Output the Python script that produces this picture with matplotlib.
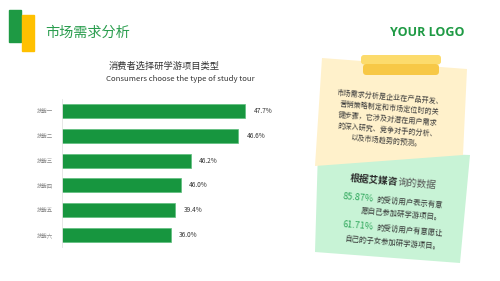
import numpy as np
import matplotlib
matplotlib.use("Agg")
import matplotlib.pyplot as plt
from matplotlib.patches import Polygon, Rectangle, FancyBboxPatch

plt.rcParams['font.family'] = ['Noto Sans CJK SC', 'DejaVu Sans']

# ---------------- data ----------------
categories = ["技能一", "技能二", "技能三", "技能四", "技能五", "技能六"]
value_labels = ["47.7%", "46.6%", "46.2%", "46.0%", "39.4%", "36.0%"]
# drawn bar lengths as they appear in the picture (same scale as first bar)
bar_lengths = [47.7, 45.9, 33.6, 31.0, 29.5, 28.4]

page_title = "市场需求分析"
logo_text = "YOUR LOGO"
chart_title = "消费者选择研学游项目类型"
chart_subtitle = "Consumers choose the type of study tour"
note_lines = ["市场需求分析是企业在产品开发、",
              "营销策略制定和市场定位时的关",
              "键步骤，它涉及对潜在用户需求",
              "的深入研究、竞争对手的分析、",
              "以及市场趋势的预测。"]
stat_head_bold = "根据艾媒咨"
stat_head_rest = "询的数据"
stat_values = ["85.87%", "61.71%"]
stat_texts = [["的受访用户表示有意", "愿自己参加研学游项目。"],
              ["的受访用户有意愿让", "自己的子女参加研学游项目。"]]

W, H = 500, 281
GREEN = "#17963F"
fig = plt.figure(figsize=(W / 100, H / 100), dpi=100)
fig.patch.set_facecolor("white")
renderer = fig.canvas.get_renderer()

# background / decoration axes in pixel coordinates
bg = fig.add_axes([0, 0, 1, 1], zorder=0)
bg.set_xlim(0, W)
bg.set_ylim(H, 0)
bg.axis("off")

def text_width(s, **kw):
    t = fig.text(0, 0, s, **kw)
    w = t.get_window_extent(renderer).width
    t.remove()
    return w

# header blocks
bg.add_patch(Rectangle((9, 10), 12, 32, color="#1E9A44", zorder=2))
bg.add_patch(Rectangle((22, 15), 12, 36, color="#FFC000", zorder=2))
bg.text(45, 33, page_title, fontsize=10.2, color="#2A9D4E", ha="left", va="center")
bg.text(465, 32, logo_text, fontsize=9, color="#1E9A44", fontweight="bold",
        family=["Open Sans", "DejaVu Sans"], ha="right", va="center")

# chart titles
bg.text(164, 66, chart_title, fontsize=6.7, color="#333333", ha="center", va="center")
bg.text(180, 79, chart_subtitle, fontsize=5.6, color="#333333", ha="center", va="center")

# notes
green_note = Polygon([(318, 150), (470, 155), (460, 263), (315, 252)], closed=True,
                     facecolor="#C8F3D6", edgecolor="none", zorder=1)
yellow_note = Polygon([(322, 58), (467, 69), (463, 155), (315, 166)], closed=True,
                      facecolor="#FFF1CB", edgecolor="none", zorder=2)
bg.add_patch(green_note)
bg.add_patch(yellow_note)
# tape
bg.add_patch(FancyBboxPatch((361, 55), 80, 9.5, boxstyle="round,pad=0,rounding_size=3",
                            facecolor="#FCDB6C", edgecolor="none", zorder=3))
bg.add_patch(FancyBboxPatch((363, 64), 76, 11, boxstyle="round,pad=0,rounding_size=3.5",
                            facecolor="#F7C846", edgecolor="none", zorder=3))

ang = 4.8
ca, sa = np.cos(np.radians(ang)), np.sin(np.radians(ang))

# yellow note text
for k, line in enumerate(note_lines):
    cx = 390 - k * 10.8 * sa
    cy = 97.5 + k * 10.8 * ca
    bg.text(cx, cy, line, fontsize=5.1, color="#3A3A3A", ha="center", va="center",
            rotation=-ang, rotation_mode="anchor", zorder=4)

# green note text
def along(x0, y0, s):
    return x0 + s * ca, y0 + s * sa

head_kw = dict(fontsize=6.9, fontweight="bold")
bg.text(350, 178, stat_head_bold, color="#2B2B2B", ha="left", va="center",
        rotation=-ang, rotation_mode="anchor", zorder=4, **head_kw)
x2, y2 = along(350, 178, text_width(stat_head_bold, **head_kw))
bg.text(x2, y2, stat_head_rest, fontsize=6.9, color="#555555",
        ha="left", va="center", rotation=-ang, rotation_mode="anchor", zorder=4)

stat_rows = [(343, 197, 361, 210.7), (343, 225, 345, 238.5)]
for (vx, vy, lx, ly), val, txt in zip(stat_rows, stat_values, stat_texts):
    bg.text(vx, vy, val, fontsize=6.5, color="#2EA65A", ha="left", va="center",
            rotation=-ang, rotation_mode="anchor", zorder=4)
    tx, ty = along(vx, vy, 34)
    bg.text(tx, ty, txt[0], fontsize=5.3, color="#333333", ha="left", va="center",
            rotation=-ang, rotation_mode="anchor", zorder=4)
    bg.text(lx, ly, txt[1], fontsize=5.3, color="#333333", ha="left", va="center",
            rotation=-ang, rotation_mode="anchor", zorder=4)

# ---------------- bar chart ----------------
ax_left, ax_top, ax_bottom = 62, 99, 247
xmax = 50
ax_w = 183 * xmax / 47.7
ax = fig.add_axes([ax_left / W, 1 - ax_bottom / H, ax_w / W, (ax_bottom - ax_top) / H], zorder=1)
ax.patch.set_alpha(0)
y = np.arange(len(categories))
bars = ax.barh(y, bar_lengths, height=0.57, color=GREEN, edgecolor="#5DBE7C", linewidth=0.5)
ax.set_ylim(len(categories) - 0.5, -0.5)
ax.set_xlim(0, xmax)
ax.set_yticks(y)
ax.set_yticklabels(categories, fontsize=3.9, color="#888888")
ax.tick_params(axis="y", length=0, pad=6.5)
ax.set_xticks([])
for s in ["top", "right", "bottom"]:
    ax.spines[s].set_visible(False)
ax.spines["left"].set_color("#E3E3E3")
ax.spines["left"].set_linewidth(0.6)
for b, lab in zip(bars, value_labels):
    ax.annotate(lab, (b.get_width(), b.get_y() + b.get_height() / 2),
                xytext=(6, 0), textcoords="offset points", fontsize=4.7,
                color="#333333", ha="left", va="center")

fig.savefig("out.png", dpi=100, facecolor="white")
